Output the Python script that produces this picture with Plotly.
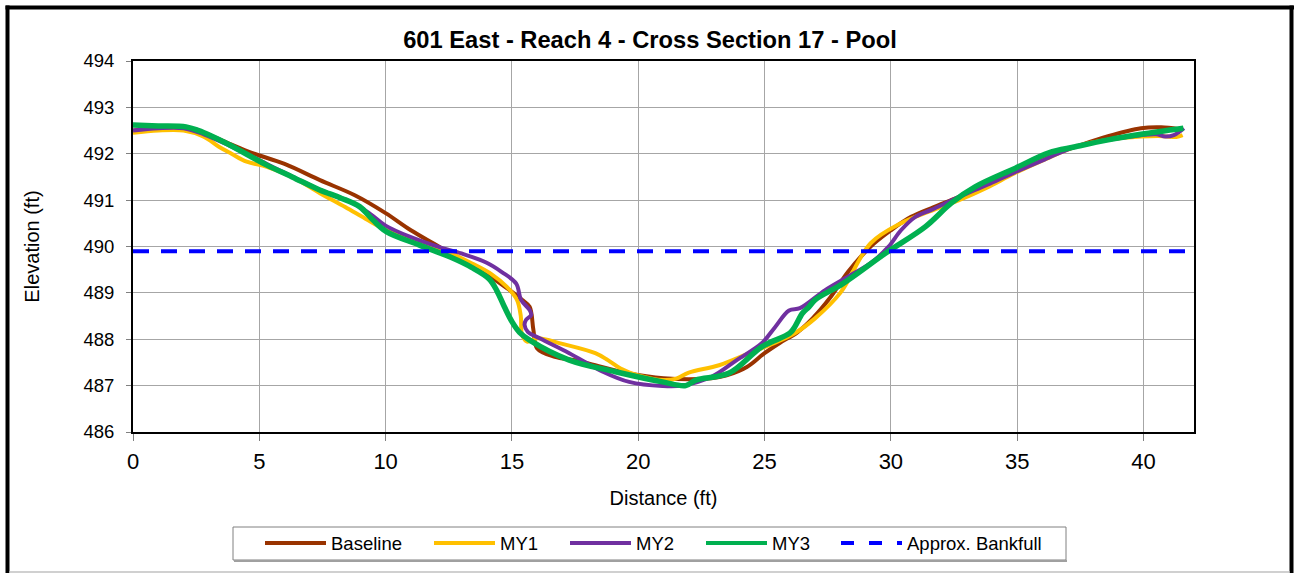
import plotly.graph_objects as go

# ---------------- data ----------------
baseline_x = [0, 1, 2, 2.8, 3.8, 4.7, 6, 7.4, 8.8, 10, 11, 12.1, 13, 14, 14.8, 15.4, 15.7, 15.85, 16,
              16.7, 17.5, 18.3, 19.5, 21, 22.9, 23.5, 24.3, 25, 25.6, 26.3, 26.9, 27.6, 28.3, 29.2,
              30, 30.8, 31.7, 32.7, 33.8, 34.9, 36.1, 37.3, 38.6, 39.9, 40.7, 41.4]
baseline_y = [492.5, 492.55, 492.55, 492.45, 492.22, 492.02, 491.78, 491.43, 491.1, 490.72, 490.35,
              490.0, 489.7, 489.4, 489.1, 488.85, 488.7, 488.2, 487.8, 487.62, 487.55, 487.44, 487.28,
              487.16, 487.16, 487.22, 487.4, 487.7, 487.92, 488.15, 488.45, 488.9, 489.45, 490.0,
              490.35, 490.64, 490.85, 491.07, 491.35, 491.65, 491.92, 492.15, 492.38, 492.55, 492.57,
              492.53]

my1_x = [0, 1, 2, 2.8, 3.4, 3.9, 4.5, 5.3, 6.3, 7.4, 8.4, 9.2, 10, 11, 12.1, 13.4, 14.2, 14.8, 15.2,
         15.35, 15.4, 15.6, 16, 17, 18.3, 18.8, 19.3, 20, 21, 21.5, 22, 23.2, 24.4, 25.3, 26.2, 27,
         28, 29.2, 30.4, 31.5, 32.7, 33.8, 34.9, 36.1, 37.3, 38.6, 39.9, 40.8, 41.3, 41.55]
my1_y = [492.45, 492.5, 492.5, 492.37, 492.15, 492.0, 491.83, 491.72, 491.5, 491.15, 490.85, 490.6,
         490.36, 490.15, 489.97, 489.64, 489.4, 489.13, 488.85, 488.5, 488.1, 487.95, 488.02, 487.9,
         487.7, 487.55, 487.37, 487.22, 487.12, 487.15, 487.28, 487.44, 487.7, 487.9, 488.13, 488.45,
         489.0, 490.07, 490.5, 490.75, 491.0, 491.27, 491.58, 491.88, 492.15, 492.3, 492.37, 492.38,
         492.36, 492.4]

my2_x = [0, 1, 2, 2.8, 3.8, 5.3, 7.4, 8.7, 9.4, 10, 11, 12.1, 13, 14, 14.6, 15.17, 15.36, 15.7, 15.76,
         15.56, 15.5, 15.63, 16.1, 17.27, 18.6, 19.64, 20.96, 21.75, 22.9, 23.9, 24.9, 25.4, 25.97,
         26.4, 27.4, 28.3, 29.2, 29.9, 30.4, 30.97, 31.6, 32.7, 33.8, 34.9, 36.1, 37.3, 38.6, 39.9,
         40.5, 40.86, 41.2, 41.6]
my2_y = [492.5, 492.55, 492.55, 492.42, 492.18, 491.78, 491.22, 490.94, 490.7, 490.45, 490.2, 489.99,
         489.85, 489.65, 489.45, 489.2, 488.85, 488.63, 488.52, 488.42, 488.31, 488.16, 488.02, 487.7,
         487.3, 487.08, 486.99, 487.0, 487.19, 487.55, 487.92, 488.25, 488.62, 488.67, 489.06, 489.35,
         489.64, 489.99, 490.35, 490.64, 490.79, 491.07, 491.33, 491.6, 491.88, 492.15, 492.3, 492.4,
         492.42, 492.37, 492.4, 492.55]

my3_x = [0, 1, 2.1, 2.6, 3.04, 3.83, 5.28, 6.3, 7.39, 8.2, 8.97, 9.5, 10.03, 11.34, 12.65, 13.4, 14.1,
         14.4, 14.7, 15.0, 15.3, 15.7, 17.27, 19.1, 20.96, 21.88, 22.28, 23.6, 24.9, 26.0, 26.2, 26.5,
         26.76, 27.0, 28.1, 29.8, 31.37, 32.4, 33.35, 34.93, 36.25, 37.3, 38.6, 39.9, 41.58]
my3_y = [492.62, 492.6, 492.58, 492.5, 492.4, 492.19, 491.76, 491.5, 491.22, 491.05, 490.86, 490.57,
         490.32, 490.03, 489.75, 489.55, 489.3, 489.05, 488.7, 488.38, 488.15, 487.98, 487.55, 487.3,
         487.08, 487.0, 487.12, 487.27, 487.84, 488.13, 488.27, 488.56, 488.7, 488.85, 489.2, 489.86,
         490.43, 490.94, 491.29, 491.69, 492.02, 492.15, 492.3, 492.42, 492.55]

bankfull_x = [0, 42]
bankfull_y = [489.9, 489.9]

series_names = ["Baseline", "MY1", "MY2", "MY3", "Approx. Bankfull"]
series_colors = ["#993300", "#FFC000", "#7030A0", "#00B050", "#0000FF"]
series_widths = [4, 4, 4, 5.5, 4]

x_ticks = [0, 5, 10, 15, 20, 25, 30, 35, 40]
y_ticks = [486, 487, 488, 489, 490, 491, 492, 493, 494]

title_text = "601 East - Reach 4 - Cross Section 17 - Pool"
x_title = "Distance (ft)"
y_title = "Elevation (ft)"

# ---------------- layout geometry ----------------
W, H = 1294, 573
L, R, T, B = 133, 100, 61, 141
PW, PH = W - L - R, H - T - B
FONT = "Liberation Sans, Arial, sans-serif"


def pxx(px):
    return (px - L) / PW


def pxy(py):
    return (H - B - py) / PH


fig = go.Figure()
data = [(baseline_x, baseline_y), (my1_x, my1_y), (my2_x, my2_y), (my3_x, my3_y)]
for (xs, ys), name, color, wd in zip(data, series_names[:4], series_colors[:4], series_widths[:4]):
    fig.add_trace(go.Scatter(x=xs, y=ys, mode="lines", name=name,
                             line=dict(color=color, width=wd, shape="spline", smoothing=1.0),
                             showlegend=False))
fig.add_trace(go.Scatter(x=bankfull_x, y=bankfull_y, mode="lines", name=series_names[4],
                         line=dict(color=series_colors[4], width=series_widths[4], dash="16px,12px"),
                         showlegend=False))

axis_common = dict(showline=True, mirror=True, linecolor="black", linewidth=2,
                   showgrid=True, gridcolor="#A6A6A6", gridwidth=1, zeroline=False,
                   ticks="outside", tickcolor="#808080", tickwidth=1)

fig.update_xaxes(range=[0, 42], tickvals=x_ticks, ticklen=7,
                 tickfont=dict(family=FONT, size=22, color="black"),
                 title=dict(text=x_title, font=dict(family=FONT, size=20, color="black"), standoff=18),
                 ticklabelstandoff=2, **axis_common)
fig.update_yaxes(range=[486, 494], tickvals=y_ticks, ticklen=5,
                 tickfont=dict(family=FONT, size=18.5, color="black"),
                 title=dict(text=y_title, font=dict(family=FONT, size=20, color="black"), standoff=38),
                 ticklabelstandoff=8, **axis_common)

shapes = []
# outer chart border
shapes.append(dict(type="line", xref="paper", yref="paper", x0=pxx(7.5), x1=pxx(7.5), y0=pxy(5.5), y1=pxy(575),
                   line=dict(color="black", width=4)))
shapes.append(dict(type="line", xref="paper", yref="paper", x0=pxx(5.5), x1=pxx(1294), y0=pxy(7.5), y1=pxy(7.5),
                   line=dict(color="black", width=4)))
shapes.append(dict(type="line", xref="paper", yref="paper", x0=pxx(1291.5), x1=pxx(1291.5), y0=pxy(5.5), y1=pxy(575),
                   line=dict(color="black", width=4)))
shapes.append(dict(type="line", xref="paper", yref="paper", x0=pxx(9.5), x1=pxx(1289.5), y0=pxy(572), y1=pxy(572),
                   line=dict(color="#D0D0D0", width=2)))

# legend box
lg_left, lg_right, lg_top, lg_bot = 233, 1066, 527, 560
shapes.append(dict(type="rect", xref="paper", yref="paper", x0=pxx(lg_left), x1=pxx(lg_right),
                   y0=pxy(lg_bot), y1=pxy(lg_top), line=dict(color="#808080", width=1), fillcolor="white"))
shapes.append(dict(type="line", xref="paper", yref="paper", x0=pxx(lg_left + 1), x1=pxx(lg_right + 1),
                   y0=pxy(lg_bot + 1), y1=pxy(lg_bot + 1), line=dict(color="#A0A0A0", width=2)))

legend_line_starts = [265, 434, 570, 706, 841]
legend_y = 543
line_len = 61
annotations = []
for i, (name, color, start) in enumerate(zip(series_names, series_colors, legend_line_starts)):
    dash = "solid" if i < 4 else "13px,15px"
    shapes.append(dict(type="line", xref="paper", yref="paper", x0=pxx(start), x1=pxx(start + line_len),
                       y0=pxy(legend_y), y1=pxy(legend_y), line=dict(color=color, width=4, dash=dash)))
    annotations.append(dict(text=name, xref="paper", yref="paper", x=pxx(start + line_len + 3),
                            y=pxy(legend_y), xanchor="left", yanchor="middle", showarrow=False,
                            font=dict(family=FONT, size=18.5, color="black")))

fig.update_layout(
    width=W, height=H,
    margin=dict(l=L, r=R, t=T, b=B),
    paper_bgcolor="white", plot_bgcolor="white",
    title=dict(text="<b>" + title_text + "</b>", x=650 / W, xanchor="center", xref="container",
               y=1 - 40 / H, yanchor="middle", yref="container",
               font=dict(family=FONT, size=23.7, color="black")),
    shapes=shapes, annotations=annotations, showlegend=False,
)

fig.write_html("out.html", config={"displayModeBar": False},
               post_script="document.body.style.margin='0';document.body.style.overflow='hidden';")
